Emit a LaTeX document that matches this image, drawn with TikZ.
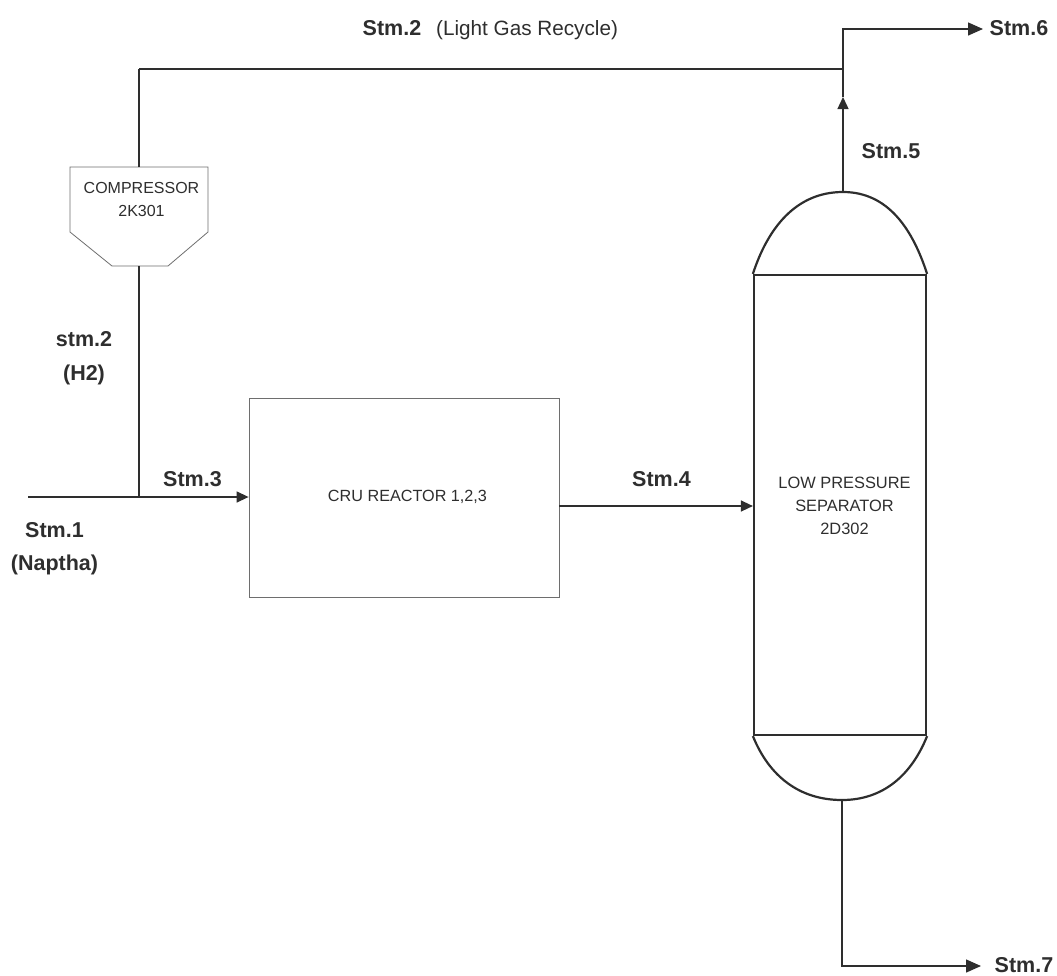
\documentclass[tikz,border=0pt]{standalone}
\usepackage{fontspec}
\setmainfont{Liberation Sans}
\usetikzlibrary{arrows.meta}
\definecolor{inkgray}{HTML}{2E2E2E}
\definecolor{boxgray}{HTML}{6E6E6E}
\tikzset{
  stream/.style={draw=inkgray,line width=1.4pt},
  flow/.style={stream,-{Triangle[length=12pt,width=11pt]}},
  bigflow/.style={stream,-{Triangle[length=15pt,width=13pt]}},
  hydrogen/.style={draw=inkgray,line width=2.6pt},
  unit/.style={draw=boxgray,line width=0.8pt,fill=white},
  unitlabel/.style={align=center,inner sep=0pt,text=inkgray,font=\fontsize{16.2}{23}\selectfont},
  vessel/.style={draw=inkgray,line width=2.2pt},
  stmlabel/.style={text=inkgray,align=center,inner sep=0pt,font=\fontsize{21.5}{33.5}\selectfont\bfseries},
  gaslabel/.style={text=inkgray,font=\fontsize{20.7}{24}\selectfont},
}
\begin{document}
\begin{tikzpicture}[x=1pt,y=-1pt]
  \useasboundingbox (0,0) rectangle (1057,975);
  % units
  \node[unit,minimum width=310pt,minimum height=199pt,inner sep=0pt] (reactor) at (404,497.5) {};
  \node[unitlabel] (reactorLabel) at (407.5,497) {CRU REACTOR 1,2,3};
  \node[vessel,minimum width=172pt,minimum height=460pt,inner sep=0pt] (separator) at (840,505) {};
  \node[unitlabel,font=\fontsize{16.4}{23}\selectfont] (separatorLabel) at (844.5,506) {LOW PRESSURE\\SEPARATOR\\2D302};
  \draw[vessel] (separator.north west) to[out=72,in=180] (843,192) coordinate (domeTop) to[out=0,in=108] (separator.north east);
  \draw[vessel] (separator.south west) to[out=-68,in=180] (842,800) coordinate (domeBottom) to[out=0,in=-112] (separator.south east);
  \draw[unit] (70,167) -- (208,167) -- (208,232) -- (168,266) -- (112,266) -- (70,232) -- cycle;
  \node[unitlabel,font=\fontsize{16}{23}\selectfont] (compressor) at (141.5,199.5) {COMPRESSOR\\2K301};
  % junctions and free ends
  \coordinate (feed) at (28,497);
  \coordinate (mix) at (139,497);
  \coordinate (compIn) at (139,266);
  \coordinate (compOut) at (139,167);
  \coordinate (recycleCorner) at (139,69);
  \coordinate (split) at (843,69);
  \coordinate (arrowFive) at (843,97);
  \coordinate (topCorner) at (843,29);
  \coordinate (endSix) at (983,29);
  \coordinate (bottomCorner) at (842,966);
  \coordinate (endSeven) at (981,966);
  % streams
  \draw[flow] (feed) -- (feed-|reactor.west);
  \draw[hydrogen] (mix) -- (compIn);
  \draw[hydrogen] (compOut) -- (recycleCorner);
  \draw[stream,line width=1.8pt] (recycleCorner) -- (split);
  \draw[flow] (reactor.east|-0,506) -- (separator.west|-0,506);
  \draw[flow] (domeTop) -- (arrowFive);
  \draw[stream] (arrowFive) -- (split);
  \draw[bigflow] (split) -- (topCorner) -- (endSix);
  \draw[bigflow] (domeBottom) -- (bottomCorner) -- (endSeven);
  % labels
  \node[stmlabel,anchor=center] (stmTwoTop) at (392,28) {Stm.2};
  \node[gaslabel,anchor=west,inner sep=0pt] (recycleLabel) at (436,30) {(Light Gas Recycle)};
  \node[stmlabel] (stmTwo) at (84,358) {stm.2\\(H2)};
  \node[stmlabel] (stmThree) at (192.5,479) {Stm.3};
  \node[stmlabel] (stmOne) at (54.5,548.5) {Stm.1\\(Naptha)};
  \node[stmlabel] (stmFour) at (661.5,479) {Stm.4};
  \node[stmlabel] (stmFive) at (891,151) {Stm.5};
  \node[stmlabel] (stmSix) at (1019,28) {Stm.6};
  \node[stmlabel] (stmSeven) at (1024,965) {Stm.7};
\end{tikzpicture}
\end{document}
